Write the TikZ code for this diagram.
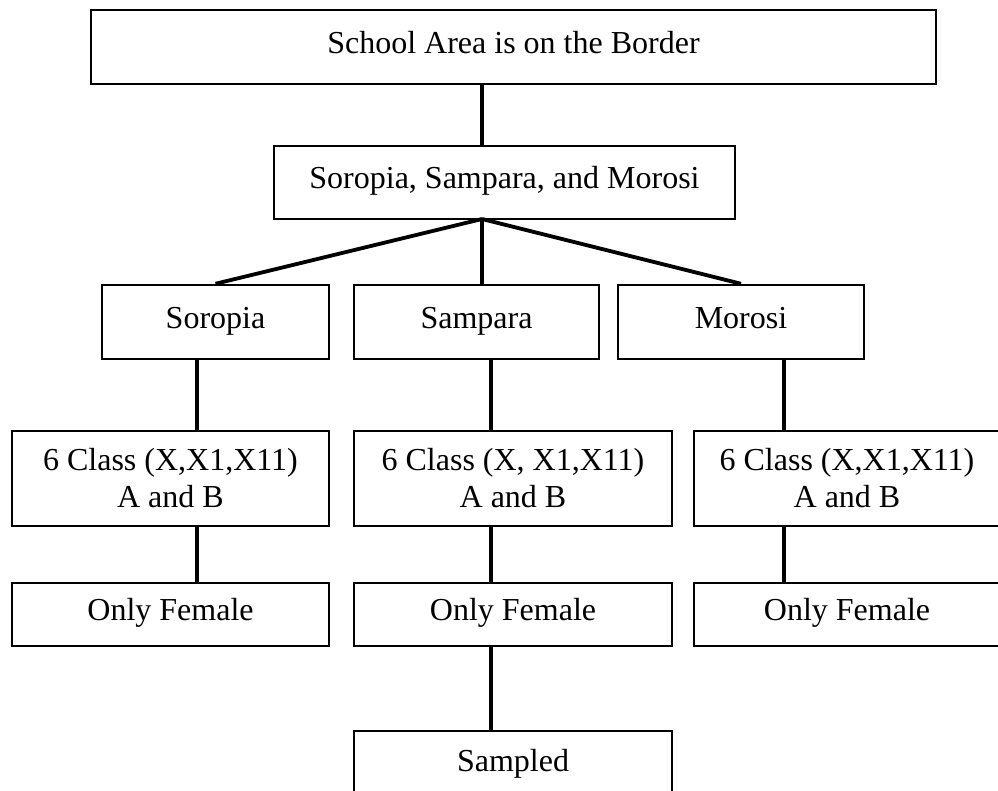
\documentclass[tikz,border=0pt]{standalone}
\usepackage{fontspec}
\setmainfont{Liberation Serif}
\usetikzlibrary{positioning}

\tikzset{
  areabox/.style={draw, rectangle, line width=2.5pt, inner sep=0pt, align=center,
                  font=\fontsize{32}{37}\selectfont},
  oneline/.style={text height=23pt, text depth=11pt},
  joinline/.style={line width=3.3pt}
}

\begin{document}
\begin{tikzpicture}[x=1pt,y=-1pt]
\useasboundingbox (0,0) rectangle (998,790);

\node [areabox, oneline, minimum width=845pt, minimum height=74pt]
       (border) at (513.5,47) {School Area is on the Border};
\node [areabox, oneline, minimum width=461pt, minimum height=73pt]
       (three) at (504.5,182.5) {Soropia, Sampara, and Morosi};

\node [areabox, oneline, minimum width=227pt, minimum height=74pt]
       (sor) at (215.5,322) {Soropia};
\node [areabox, oneline, minimum width=245pt, minimum height=74pt]
       (sam) at (476.5,322) {Sampara};
\node [areabox, oneline, minimum width=246pt, minimum height=74pt]
       (mor) at (741,322) {Morosi};

\node [areabox, minimum width=317pt, minimum height=95pt]
       (sorclass) at (170.5,478.5) {6 Class (X,X1,X11)\\A and B};
\node [areabox, minimum width=318pt, minimum height=95pt]
       (samclass) at (513,478.5) {6 Class (X, X1,X11)\\A and B};
\node [areabox, minimum width=306pt, minimum height=95pt]
       (morclass) at (847,478.5) {6 Class (X,X1,X11)\\A and B};

\node [areabox, oneline, minimum width=317pt, minimum height=63pt]
       (sorfem) at (170.5,614.5) {Only Female};
\node [areabox, oneline, minimum width=318pt, minimum height=63pt]
       (samfem) at (513,614.5) {Only Female};
\node [areabox, oneline, minimum width=306pt, minimum height=63pt]
       (morfem) at (847,614.5) {Only Female};

\node [areabox, oneline, minimum width=318pt, minimum height=69pt]
       (sampled) at (513,765.5) {Sampled};

% where the lines run
\coordinate (fork) at (482,219);
\coordinate (dropA) at (197,0);
\coordinate (dropB) at (491,0);
\coordinate (dropC) at (784,0);

\draw [joinline] (fork |- border.south) -- (fork |- three.north);
\draw [joinline, line width=3.8pt] (fork) -- (sor.north);
\draw [joinline] (fork) -- (fork |- sam.north);
\draw [joinline, line width=3.8pt] (fork) -- (mor.north);

\draw [joinline] (dropA |- sor.south) -- (dropA |- sorclass.north);
\draw [joinline] (dropB |- sam.south) -- (dropB |- samclass.north);
\draw [joinline] (dropC |- mor.south) -- (dropC |- morclass.north);

\draw [joinline] (dropA |- sorclass.south) -- (dropA |- sorfem.north);
\draw [joinline] (dropB |- samclass.south) -- (dropB |- samfem.north);
\draw [joinline] (dropC |- morclass.south) -- (dropC |- morfem.north);

\draw [joinline] (dropB |- samfem.south) -- (dropB |- sampled.north);
\end{tikzpicture}
\end{document}
